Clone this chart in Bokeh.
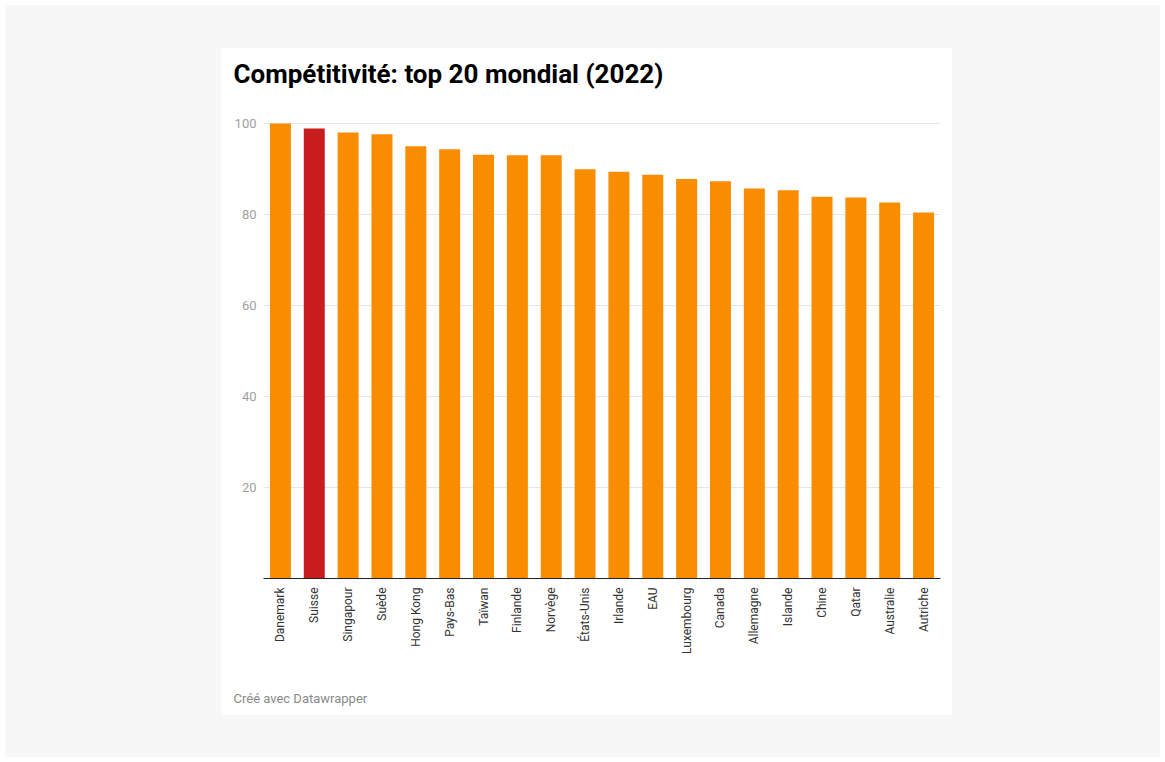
import math
from bokeh.plotting import figure
from bokeh.models import ColumnDataSource, FactorRange, Range1d, FixedTicker, Title
from bokeh.layouts import column
from bokeh.embed import file_html
from bokeh.resources import INLINE

countries = ["Danemark", "Suisse", "Singapour", "Suède", "Hong Kong", "Pays-Bas",
             "Taïwan", "Finlande", "Norvège", "États-Unis", "Irlande", "EAU",
             "Luxembourg", "Canada", "Allemagne", "Islande", "Chine", "Qatar",
             "Australie", "Autriche"]
scores = [100.0, 98.9, 98.0, 97.6, 95.0, 94.3, 93.1, 93.0, 93.0, 89.9, 89.4, 88.7,
          87.8, 87.3, 85.7, 85.3, 83.9, 83.7, 82.6, 80.4]
y_ticks = [20, 40, 60, 80, 100]
highlight = "Suisse"
title_text = "Compétitivité: top 20 mondial (2022)"
footer_text = "Créé avec Datawrapper"

ORANGE = "#fa8c00"
RED = "#c71e1d"
colors = [RED if c == highlight else ORANGE for c in countries]

CARD_W = 731
HEAD_H = 56
FOOT_H = 40
MAIN_H = 667 - HEAD_H - FOOT_H


def text_strip(height):
    f = figure(width=CARD_W, height=height, x_range=Range1d(0, 1),
               y_range=Range1d(0, 1), output_backend="svg",
               toolbar_location=None, min_border=0, outline_line_color=None,
               background_fill_color="white", border_fill_color="white")
    f.axis.visible = False
    f.grid.visible = False
    return f


# ---- title strip ----
head = text_strip(HEAD_H)
head.title.text = title_text
head.title.text_font = "Roboto"
head.title.text_font_style = "bold"
head.title.text_font_size = "26px"
head.title.text_color = "#000000"
head.title.align = "left"
head.title.offset = -30
head.title.standoff = 17

# ---- main chart ----
src = ColumnDataSource(dict(country=countries, score=scores, color=colors))

p = figure(
    width=CARD_W, height=MAIN_H,
    x_range=FactorRange(*countries, range_padding=0),
    y_range=Range1d(0, 100.2),
    output_backend="svg", toolbar_location=None,
    min_border_left=42, min_border_right=12,
    min_border_top=74 - HEAD_H, min_border_bottom=MAIN_H - (530 - HEAD_H),
    background_fill_color="white", border_fill_color="white",
    outline_line_color=None,
)

p.vbar(x="country", top="score", width=0.62, color="color", line_color=None, source=src)

p.yaxis.ticker = FixedTicker(ticks=y_ticks)
p.yaxis.axis_line_color = None
p.yaxis.major_tick_line_color = None
p.yaxis.major_tick_out = 0
p.yaxis.major_tick_in = 0
p.yaxis.minor_tick_line_color = None
p.yaxis.major_label_text_font = "Roboto"
p.yaxis.major_label_text_font_size = "13px"
p.yaxis.major_label_text_color = "#a0a0a0"
p.yaxis.major_label_standoff = 7

p.xaxis.axis_line_color = "#222222"
p.xaxis.axis_line_width = 1.2
p.xaxis.major_tick_line_color = None
p.xaxis.major_tick_out = 0
p.xaxis.major_tick_in = 0
p.xaxis.minor_tick_line_color = None
p.xaxis.major_label_orientation = math.pi / 2
p.xaxis.major_label_text_font = "Roboto"
p.xaxis.major_label_text_font_size = "12px"
p.xaxis.major_label_text_color = "#333333"
p.xaxis.major_label_standoff = 9

p.xgrid.grid_line_color = None
p.ygrid.grid_line_color = "#e6e6e6"
p.ygrid.grid_line_width = 1

# ---- footer strip ----
foot = text_strip(FOOT_H)
foot.title = None
foot.add_layout(Title(text=footer_text, align="left", offset=-30,
                      text_font="Roboto", text_font_style="normal",
                      text_font_size="13px", text_color="#8a8a8a",
                      standoff=20), "below")

card = column(head, p, foot, spacing=0, styles={"background-color": "white"})
layout = column(card, styles={"background-color": "#f7f7f7",
                              "margin": "5px",
                              "padding": "43px 208px 42px 216px"})

open("out.html", "w").write(file_html(layout, INLINE))
